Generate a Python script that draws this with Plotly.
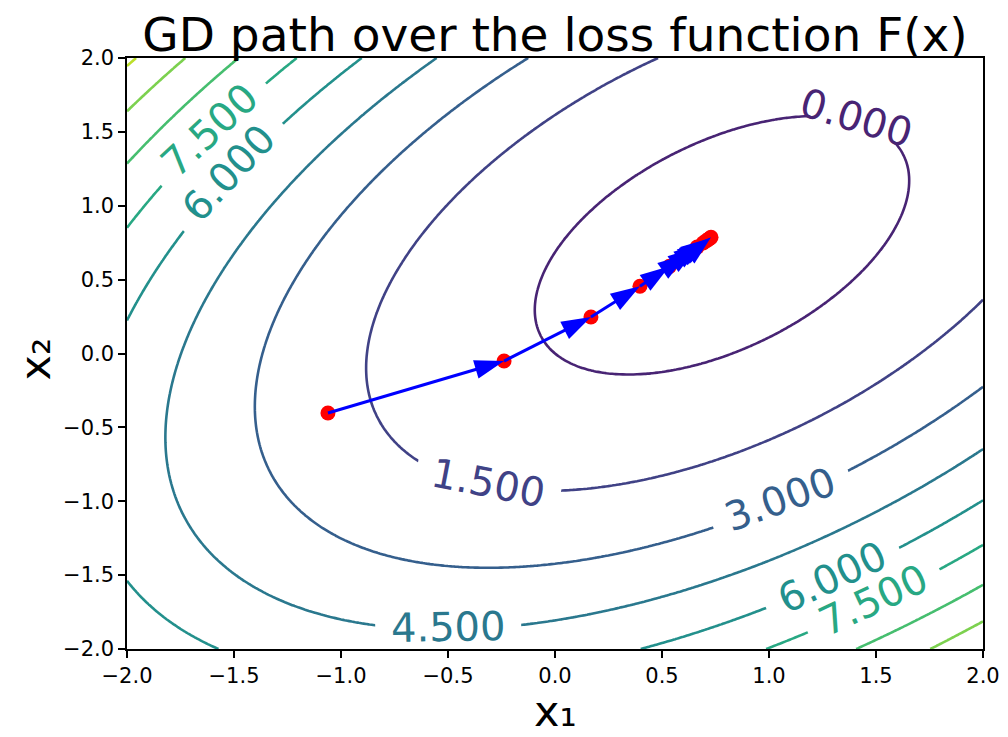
import numpy as np
import plotly.graph_objects as go
from plotly.colors import sample_colorscale

# Loss F(x) = a*x1^2 + b*x2^2 + c*x1*x2 + d*x1 + e*x2 + f (coefficients estimated from the contours)
loss_coef = [1.0, 1.0, -1.0, -0.828, -0.685, 0.0]
levels_start, levels_end, levels_step = -1.5, 13.5, 1.5

# gradient-descent iterates
gd_x1 = [-1.061, -0.238, 0.168, 0.397, 0.535, 0.617, 0.664, 0.692, 0.708, 0.718, 0.724, 0.729]
gd_x2 = [-0.403, -0.051, 0.247, 0.455, 0.590, 0.672, 0.720, 0.748, 0.764, 0.774, 0.780, 0.786]

# inline contour labels: level, position (x1, x2), angle
label_levels = [0.0, 1.5, 3.0, 4.5, 6.0, 7.5, 6.0, 7.5]
label_x1 = [1.410, -0.312, 1.055, -0.499, -1.527, -1.615, 1.296, 1.487]
label_x2 = [1.592, -0.879, -0.987, -1.849, 1.224, 1.513, -1.515, -1.668]
label_angle = [17, 11, -20, -1, -47, -43, -25, -25]

# layout (the page adds an 8px body margin around the figure)
W, H = 1000, 729
ML, MR, MT, MB = 119, 25, 50, 88
XR = [-2, 2]
YR = [-2, 2]
PW, PH = W - ML - MR, H - MT - MB
pxx = PW / (XR[1] - XR[0])
pxy = PH / (YR[1] - YR[0])

g = np.linspace(-2, 2, 241)
X, Y = np.meshgrid(g, g)
a, b, c, d, e, f = loss_coef
Z = a*X**2 + b*Y**2 + c*X*Y + d*X + e*Y + f

fig = go.Figure()
fig.add_trace(go.Contour(
    x=g, y=g, z=Z, autocontour=False,
    contours=dict(start=levels_start, end=levels_end, size=levels_step,
                  coloring='lines', showlabels=False),
    colorscale='Viridis', line=dict(width=2.6), showscale=False, hoverinfo='skip'))
fig.add_trace(go.Scatter(x=gd_x1, y=gd_x2, mode='markers',
                         marker=dict(color='red', size=15, opacity=1), showlegend=False))
sizes = [0] + [31] * (len(gd_x1) - 1)
fig.add_trace(go.Scatter(x=gd_x1, y=gd_x2, mode='lines+markers',
                         line=dict(color='blue', width=3),
                         marker=dict(symbol='arrow', angleref='previous', size=sizes,
                                     color='blue', opacity=1, line=dict(width=0)),
                         showlegend=False))

def lev_color(L):
    t = (L - levels_start) / (levels_end - levels_start)
    return sample_colorscale('Viridis', [t])[0]

gap_len, gap_h = 146, 22
shapes = []
anns = []
for L, x1, x2, ang in zip(label_levels, label_x1, label_x2, label_angle):
    th = np.deg2rad(ang)
    ux, uy = np.cos(th) / pxx, -np.sin(th) / pxy
    vx, vy = -np.sin(th) / pxx, -np.cos(th) / pxy
    pts = []
    for s1, s2 in [(-1, -1), (1, -1), (1, 1), (-1, 1)]:
        pts.append((x1 + s1*ux*gap_len/2 + s2*vx*gap_h/2, x2 + s1*uy*gap_len/2 + s2*vy*gap_h/2))
    path = 'M' + ' L'.join('%.5f,%.5f' % p for p in pts) + ' Z'
    shapes.append(dict(type='path', path=path, xref='x', yref='y', fillcolor='white',
                       line=dict(width=0), layer='above'))
    anns.append(dict(x=x1, y=x2, xref='x', yref='y', showarrow=False, text='%.3f' % L,
                     textangle=ang, borderpad=0,
                     font=dict(size=40, color=lev_color(L), family='DejaVu Sans'),
                     xanchor='center', yanchor='middle'))

# axis titles
anns.append(dict(x=0.5, y=-62 / PH, xref='paper', yref='paper', showarrow=False, text='x₁',
                 font=dict(size=43, color='black', family='DejaVu Sans'),
                 xanchor='center', yanchor='middle', borderpad=0))
anns.append(dict(x=-92 / PW, y=0.49, xref='paper', yref='paper', showarrow=False, text='x₂',
                 textangle=-90, font=dict(size=43, color='black', family='DejaVu Sans'),
                 xanchor='center', yanchor='middle', borderpad=0))

fig.update_layout(
    width=W, height=H, autosize=False,
    margin=dict(l=ML, r=MR, t=MT, b=MB),
    plot_bgcolor='white', paper_bgcolor='white',
    font=dict(family='DejaVu Sans', color='black'),
    title=dict(text='GD path over the loss function F(x)', x=0.5, xref='paper', xanchor='center',
               y=1, yref='paper', yanchor='bottom', pad=dict(b=7),
               font=dict(size=47, color='black')),
    shapes=shapes, annotations=anns)
ax = dict(showgrid=False, zeroline=False, showline=True, mirror=True,
          linecolor='black', linewidth=1.5, ticks='outside', ticklen=7, tickwidth=1.5,
          tickcolor='black', dtick=0.5, tick0=-2, tickformat='.1f',
          tickfont=dict(size=21), automargin=False)
fig.update_xaxes(**ax, range=XR)
fig.update_yaxes(**ax, range=YR)
fig.write_html('out.html')
